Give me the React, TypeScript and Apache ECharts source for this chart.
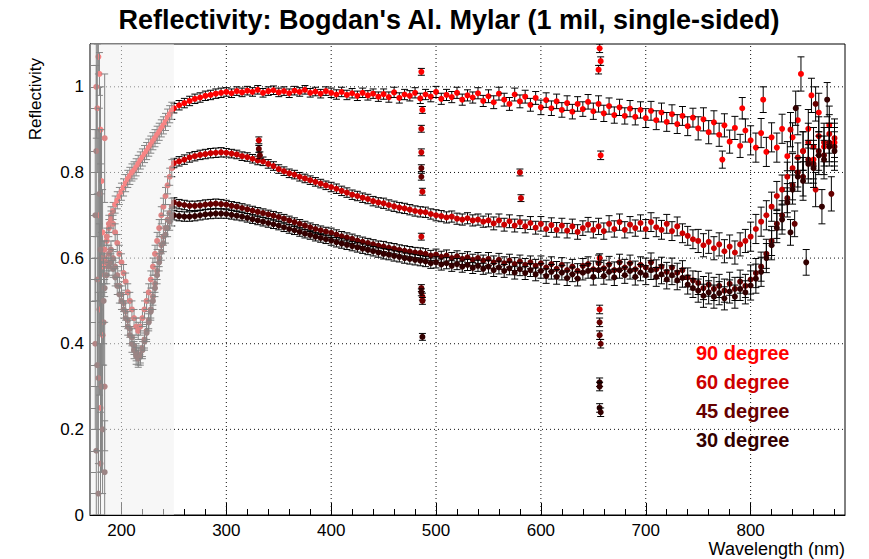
import React, { useEffect, useRef } from "react";
import * as echarts from "echarts";

const FONT = "'Liberation Sans', Arial, Helvetica, sans-serif";
const TITLE = "Reflectivity: Bogdan's Al. Mylar (1 mil, single-sided)";
const X_TITLE = "Wavelength (nm)";
const Y_TITLE = "Reflectivity";

const xMin = 170;
const xMax = 890;
const yMin = 0;
const yMax = 1.1;
const xMajor = [200, 300, 400, 500, 600, 700, 800];
const xMinor = [180, 220, 240, 260, 280, 320, 340, 360, 380, 420, 440, 460, 480, 520, 540, 560, 580, 620, 640, 660, 680, 720, 740, 760, 780, 820, 840, 860, 880];
const yMajor = [0, 0.2, 0.4, 0.6, 0.8, 1];
const yMinor = [0.05, 0.1, 0.15, 0.25, 0.3, 0.35, 0.45, 0.5, 0.55, 0.65, 0.7, 0.75, 0.85, 0.9, 0.95, 1.05];

// shaded (UV) wavelength band
const uvBand = [170, 250];

const seriesNames = ["90 degree", "60 degree", "45 degree", "30 degree"];
const seriesColors = ["#ff0000", "#cc0000", "#660000", "#330000"];

// UV part (184..248 nm, every 2 nm)
const wlUV = [184, 186, 188, 190, 192, 194, 196, 198, 200, 202, 204, 206, 208, 210, 212, 214, 216, 218, 220, 222, 224, 226, 228, 230, 232, 234, 236, 238, 240, 242, 244, 246, 248];
const r90UV = [0.6, 0.64, 0.67, 0.7, 0.71, 0.725, 0.735, 0.745, 0.755, 0.765, 0.775, 0.785, 0.792, 0.8, 0.805, 0.812, 0.82, 0.828, 0.835, 0.843, 0.85, 0.858, 0.865, 0.873, 0.88, 0.888, 0.895, 0.903, 0.91, 0.918, 0.928, 0.936, 0.944];
const r60UV = [0.62, 0.65, 0.68, 0.69, 0.68, 0.66, 0.635, 0.61, 0.59, 0.565, 0.545, 0.52, 0.5, 0.48, 0.46, 0.44, 0.43, 0.44, 0.46, 0.48, 0.5, 0.52, 0.55, 0.58, 0.61, 0.64, 0.67, 0.7, 0.72, 0.745, 0.77, 0.79, 0.81];
const r45UV = [0.56, 0.59, 0.61, 0.62, 0.6, 0.58, 0.56, 0.535, 0.515, 0.495, 0.475, 0.455, 0.435, 0.415, 0.395, 0.38, 0.37, 0.375, 0.39, 0.41, 0.43, 0.455, 0.48, 0.51, 0.54, 0.57, 0.6, 0.63, 0.65, 0.67, 0.69, 0.705, 0.72];
const r30UV = [0.53, 0.56, 0.58, 0.59, 0.575, 0.555, 0.535, 0.515, 0.5, 0.48, 0.46, 0.44, 0.42, 0.4, 0.385, 0.372, 0.365, 0.37, 0.385, 0.405, 0.425, 0.45, 0.475, 0.5, 0.53, 0.56, 0.59, 0.615, 0.635, 0.655, 0.67, 0.685, 0.695];
const errUV = 0.02;

// visible part (250..880 nm, every 5 nm)
const wlVis = [
  250, 255, 260, 265, 270, 275, 280, 285, 290, 295,
  300, 305, 310, 315, 320, 325, 330, 335, 340, 345,
  350, 355, 360, 365, 370, 375, 380, 385, 390, 395,
  400, 405, 410, 415, 420, 425, 430, 435, 440, 445,
  450, 455, 460, 465, 470, 475, 480, 485, 490, 495,
  500, 505, 510, 515, 520, 525, 530, 535, 540, 545,
  550, 555, 560, 565, 570, 575, 580, 585, 590, 595,
  600, 605, 610, 615, 620, 625, 630, 635, 640, 645,
  650, 655, 660, 665, 670, 675, 680, 685, 690, 695,
  700, 705, 710, 715, 720, 725, 730, 735, 740, 745,
  750, 755, 760, 765, 770, 775, 780, 785, 790, 795,
  800, 805, 810, 815, 820, 825, 830, 835, 840, 845,
  850, 855, 860, 865, 870, 875, 880,
];
const r90Vis = [
  0.95, 0.957, 0.962, 0.967, 0.972, 0.975, 0.979, 0.981, 0.984, 0.986,
  0.988, 0.985, 0.99, 0.987, 0.991, 0.988, 0.993, 0.986, 0.99, 0.992,
  0.987, 0.99, 0.985, 0.991, 0.988, 0.993, 0.986, 0.989, 0.984, 0.99,
  0.986, 0.982, 0.988, 0.981, 0.985, 0.979, 0.986, 0.98, 0.984, 0.977,
  0.983, 0.976, 0.987, 0.974, 0.982, 0.979, 0.986, 0.973, 0.982, 0.977,
  0.988, 0.972, 0.981, 0.976, 0.986, 0.97, 0.98, 0.975, 0.985, 0.967,
  0.978, 0.964, 0.984, 0.97, 0.96, 0.982, 0.966, 0.977, 0.958, 0.974,
  0.952, 0.969, 0.95, 0.966, 0.946, 0.962, 0.942, 0.96, 0.948, 0.965,
  0.943, 0.96, 0.938, 0.955, 0.934, 0.952, 0.932, 0.949, 0.93, 0.946,
  0.927, 0.944, 0.922, 0.94, 0.918, 0.936, 0.913, 0.932, 0.908, 0.928,
  0.903, 0.924, 0.894, 0.917, 0.888, 0.91, 0.872, 0.904, 0.862, 0.898,
  0.875, 0.858, 0.892, 0.848, 0.882, 0.858, 0.902, 0.838, 0.882, 0.922,
  0.85, 0.902, 0.83, 0.94, 0.86, 0.91, 0.87,
];
const r60Vis = [
  0.822, 0.826, 0.83, 0.835, 0.838, 0.841, 0.843, 0.845, 0.846, 0.847,
  0.846, 0.844, 0.842, 0.838, 0.836, 0.832, 0.828, 0.826, 0.82, 0.815,
  0.808, 0.803, 0.798, 0.795, 0.79, 0.786, 0.782, 0.778, 0.774, 0.77,
  0.766, 0.762, 0.757, 0.753, 0.748, 0.745, 0.741, 0.738, 0.733, 0.73,
  0.728, 0.724, 0.721, 0.718, 0.716, 0.713, 0.71, 0.708, 0.707, 0.703,
  0.7, 0.698, 0.695, 0.697, 0.692, 0.69, 0.693, 0.688, 0.69, 0.685,
  0.688, 0.681, 0.688, 0.678, 0.686, 0.676, 0.684, 0.674, 0.682, 0.671,
  0.68, 0.668, 0.677, 0.666, 0.676, 0.664, 0.674, 0.661, 0.67, 0.678,
  0.666, 0.674, 0.663, 0.68, 0.668, 0.684, 0.666, 0.678, 0.67, 0.682,
  0.668, 0.684, 0.672, 0.666, 0.68, 0.663, 0.674, 0.658, 0.652, 0.644,
  0.64, 0.63, 0.638, 0.623, 0.632, 0.616, 0.627, 0.613, 0.632, 0.64,
  0.65, 0.668, 0.685, 0.7, 0.72, 0.745, 0.76, 0.79, 0.81, 0.835,
  0.85, 0.87, 0.86, 0.885, 0.87, 0.89, 0.88,
];
const r45Vis = [
  0.73, 0.726, 0.724, 0.722, 0.722, 0.723, 0.725, 0.726, 0.727, 0.726,
  0.725, 0.722, 0.72, 0.717, 0.714, 0.711, 0.708, 0.705, 0.702, 0.699,
  0.696, 0.692, 0.688, 0.684, 0.68, 0.676, 0.672, 0.668, 0.665, 0.662,
  0.659, 0.655, 0.651, 0.648, 0.645, 0.641, 0.638, 0.635, 0.632, 0.629,
  0.627, 0.624, 0.622, 0.619, 0.617, 0.615, 0.613, 0.612, 0.61, 0.606,
  0.608, 0.603, 0.606, 0.6, 0.604, 0.598, 0.602, 0.596, 0.6, 0.594,
  0.598, 0.59, 0.596, 0.588, 0.594, 0.586, 0.592, 0.584, 0.59, 0.582,
  0.588, 0.578, 0.586, 0.575, 0.584, 0.572, 0.58, 0.57, 0.582, 0.586,
  0.574, 0.588, 0.576, 0.585, 0.572, 0.59, 0.578, 0.588, 0.574, 0.584,
  0.578, 0.59, 0.574, 0.58, 0.568, 0.578, 0.566, 0.572, 0.555, 0.548,
  0.542, 0.53, 0.538, 0.528, 0.535, 0.524, 0.54, 0.528, 0.545, 0.535,
  0.55, 0.565, 0.58, 0.61, 0.64, 0.68, 0.7, 0.74, 0.77, 0.8,
  0.79, 0.83, 0.82, 0.85, 0.84, 0.87, 0.86,
];
const r30Vis = [
  0.7, 0.698, 0.697, 0.697, 0.698, 0.7, 0.702, 0.703, 0.704, 0.704,
  0.703, 0.701, 0.699, 0.697, 0.694, 0.691, 0.688, 0.685, 0.682, 0.679,
  0.676, 0.672, 0.668, 0.665, 0.661, 0.657, 0.654, 0.65, 0.647, 0.644,
  0.641, 0.637, 0.634, 0.631, 0.628, 0.625, 0.622, 0.619, 0.616, 0.613,
  0.61, 0.608, 0.605, 0.603, 0.6, 0.598, 0.596, 0.594, 0.592, 0.588,
  0.59, 0.585, 0.588, 0.582, 0.586, 0.58, 0.584, 0.577, 0.582, 0.575,
  0.58, 0.572, 0.578, 0.57, 0.576, 0.566, 0.574, 0.565, 0.572, 0.562,
  0.57, 0.558, 0.568, 0.556, 0.566, 0.553, 0.562, 0.552, 0.566, 0.57,
  0.556, 0.572, 0.558, 0.568, 0.555, 0.572, 0.56, 0.57, 0.556, 0.566,
  0.56, 0.572, 0.556, 0.562, 0.55, 0.56, 0.548, 0.554, 0.538, 0.53,
  0.524, 0.512, 0.52, 0.51, 0.518, 0.506, 0.522, 0.51, 0.528, 0.52,
  0.536, 0.552, 0.568, 0.6, 0.63, 0.67, 0.69, 0.73, 0.76, 0.79,
  0.78, 0.82, 0.81, 0.84, 0.83, 0.86, 0.85,
];
// error per 50 nm band, starting at 250 nm
const errVisBand = [0.011, 0.01, 0.01, 0.011, 0.012, 0.013, 0.015, 0.017, 0.019, 0.022, 0.027, 0.034, 0.045];

// outliers / spectral-line spikes / scattered points: [nm, value, error]
const spk90 = [[178, 1.07, 0.04], [179, 1.03, 0.05], [180, 0.9, 0.1], [181, 0.78, 0.12], [182, 0.66, 0.1], [183, 0.58, 0.06], [486, 1.035, 0.008], [487, 0.946, 0.008], [655, 1.04, 0.01], [656, 1.09, 0.01], [657, 1.06, 0.01], [657, 0.84, 0.01], [773, 0.83, 0.02], [792, 0.95, 0.025], [812, 0.97, 0.03], [848, 1.03, 0.04], [858, 0.98, 0.04]];
const spk60 = [[176, 1.0, 0.12], [177, 0.95, 0.15], [178, 0.7, 0.2], [179, 0.48, 0.2], [180, 0.25, 0.15], [182, 0.42, 0.12], [184, 0.88, 0.15], [331, 0.875, 0.008], [486, 0.902, 0.008], [486, 0.847, 0.008], [487, 0.755, 0.008], [486, 0.65, 0.008], [487, 0.51, 0.008], [580, 0.8, 0.008], [581, 0.74, 0.008], [656, 0.6, 0.01], [656, 0.48, 0.01], [838, 0.9, 0.04], [862, 0.76, 0.04]];
const spk45 = [[175, 0.4, 0.2], [176, 0.85, 0.2], [177, 0.55, 0.2], [178, 0.32, 0.2], [180, 0.12, 0.12], [181, 0.6, 0.15], [183, 0.45, 0.1], [184, 0.3, 0.15], [331, 0.855, 0.008], [332, 0.84, 0.008], [486, 0.81, 0.008], [486, 0.79, 0.008], [486, 0.53, 0.008], [487, 0.5, 0.008], [656, 0.45, 0.01], [656, 0.42, 0.01], [657, 0.4, 0.01], [842, 0.68, 0.03], [862, 0.96, 0.04], [877, 0.75, 0.04]];
const spk30 = [[175, 0.7, 0.2], [176, 0.15, 0.15], [177, 0.35, 0.2], [178, 0.05, 0.1], [179, 0.75, 0.2], [180, 0.62, 0.2], [181, 0.3, 0.2], [182, 0.2, 0.15], [183, 0.5, 0.1], [184, 0.1, 0.12], [486, 0.52, 0.008], [487, 0.416, 0.008], [656, 0.31, 0.01], [656, 0.3, 0.01], [656, 0.25, 0.01], [657, 0.24, 0.01], [838, 0.66, 0.03], [843, 0.95, 0.04], [853, 0.59, 0.03], [868, 0.72, 0.04], [873, 0.97, 0.04]];

const uvSets = [r90UV, r60UV, r45UV, r30UV];
const visSets = [r90Vis, r60Vis, r45Vis, r30Vis];
const spikeSets = [spk90, spk60, spk45, spk30];

function buildPoints(uv: number[], vis: number[], spikes: number[][]) {
  const pts: number[][] = [];
  wlUV.forEach((w, i) => pts.push([w, uv[i], errUV]));
  wlVis.forEach((w, i) => {
    const band = Math.min(errVisBand.length - 1, Math.floor((w - 250) / 50));
    pts.push([w, vis[i], errVisBand[band]]);
  });
  spikes.forEach((s) => pts.push(s));
  return pts;
}

const makeRender = (color: string) => (_p: any, api: any) => {
  const x = api.value(0);
  const y = api.value(1);
  const e = api.value(2);
  const c = api.coord([x, y]);
  const t = api.coord([x, y + e]);
  const b = api.coord([x, y - e]);
  const cap = 3.5;
  const ls = { stroke: "#000", lineWidth: 1 };
  return {
    type: "group",
    children: [
      { type: "line", shape: { x1: c[0], y1: t[1], x2: c[0], y2: b[1] }, style: ls },
      { type: "line", shape: { x1: c[0] - cap, y1: t[1], x2: c[0] + cap, y2: t[1] }, style: ls },
      { type: "line", shape: { x1: c[0] - cap, y1: b[1], x2: c[0] + cap, y2: b[1] }, style: ls },
      { type: "circle", shape: { cx: c[0], cy: c[1], r: 3 }, style: { fill: color } },
    ],
  };
};

export default function App() {
  const ref = useRef<HTMLDivElement>(null);
  useEffect(() => {
    if (!ref.current) return;
    const chart = echarts.init(ref.current, undefined, { renderer: "svg" });
    const gridDash = { stroke: "#111", lineWidth: 1, lineDash: [1, 3] };
    const dataSeries = seriesNames.map((name, i) => ({
      type: "custom",
      name,
      data: buildPoints(uvSets[i], visSets[i], spikeSets[i]),
      encode: { x: 0, y: 1 },
      renderItem: makeRender(seriesColors[i]),
      clip: true,
      silent: true,
      z: 2,
    }));
    const axisText = { color: "#000", fontSize: 17, fontFamily: FONT };
    chart.setOption({
      animation: false,
      backgroundColor: "#fff",
      grid: { left: 90, right: 24, top: 44, bottom: 44, show: true, borderColor: "#000", borderWidth: 1 },
      xAxis: [
        {
          type: "value", min: xMin, max: xMax, position: "bottom",
          axisLine: { show: true, lineStyle: { color: "#000" } },
          axisTick: { show: true, inside: true, length: 12, customValues: xMajor, lineStyle: { color: "#000" } },
          axisLabel: { ...axisText, customValues: xMajor, margin: 7 },
          splitLine: { show: false },
        },
        {
          type: "value", min: xMin, max: xMax, position: "bottom", offset: 0,
          axisLine: { show: false },
          axisTick: { show: true, inside: true, length: 6, customValues: xMinor, lineStyle: { color: "#000" } },
          axisLabel: { show: false },
          splitLine: { show: false },
        },
      ],
      yAxis: [
        {
          type: "value", min: yMin, max: yMax, position: "left",
          axisLine: { show: true, lineStyle: { color: "#000" } },
          axisTick: { show: true, inside: true, length: 12, customValues: yMajor, lineStyle: { color: "#000" } },
          axisLabel: { ...axisText, customValues: yMajor, margin: 6, formatter: (v: number) => String(Math.round(v * 10) / 10) },
          splitLine: { show: false },
        },
        {
          type: "value", min: yMin, max: yMax, position: "left", offset: 0,
          axisLine: { show: false },
          axisTick: { show: true, inside: true, length: 6, customValues: yMinor, lineStyle: { color: "#000" } },
          axisLabel: { show: false },
          splitLine: { show: false },
        },
      ],
      series: [
        {
          type: "custom", name: "gridX", data: xMajor.map((v) => [v, yMin]), encode: { x: 0, y: 1 }, silent: true, z: 1,
          renderItem: (_p: any, api: any) => {
            const a = api.coord([api.value(0), yMin]);
            const b = api.coord([api.value(0), yMax]);
            return { type: "line", shape: { x1: a[0], y1: a[1], x2: b[0], y2: b[1] }, style: gridDash };
          },
        },
        {
          type: "custom", name: "gridY", data: yMajor.filter((v) => v > 0).map((v) => [xMin, v]), encode: { x: 0, y: 1 }, silent: true, z: 1,
          renderItem: (_p: any, api: any) => {
            const a = api.coord([xMin, api.value(1)]);
            const b = api.coord([xMax, api.value(1)]);
            return { type: "line", shape: { x1: a[0], y1: a[1], x2: b[0], y2: b[1] }, style: gridDash };
          },
        },
        ...dataSeries,
        {
          type: "custom", name: "uvShade", data: [[uvBand[0], yMin, uvBand[1], yMax]], encode: { x: [0, 2], y: [1, 3] }, silent: true, z: 10,
          renderItem: (_p: any, api: any) => {
            const a = api.coord([api.value(0), api.value(3)]);
            const b = api.coord([api.value(2), api.value(1)]);
            return { type: "rect", shape: { x: a[0], y: a[1], width: b[0] - a[0], height: b[1] - a[1] }, style: { fill: "rgba(240,240,240,0.55)" } };
          },
        },
      ],
      graphic: [
        { type: "text", x: 449, y: 20, z: 100, style: { text: TITLE, fill: "#000", font: `bold 27px ${FONT}`, textAlign: "center", textVerticalAlign: "middle" } },
        { type: "text", x: 35, y: 58, rotation: Math.PI / 2, z: 100, style: { text: Y_TITLE, fill: "#000", font: `17px ${FONT}`, textAlign: "right", textVerticalAlign: "middle" } },
        { type: "text", x: 845, y: 549, z: 100, style: { text: X_TITLE, fill: "#000", font: `18px ${FONT}`, textAlign: "right", textVerticalAlign: "middle" } },
        ...seriesNames.map((n, i) => ({
          type: "text", x: 696, y: 353 + i * 29, z: 100,
          style: { text: n, fill: seriesColors[i], font: `bold 20px ${FONT}`, textAlign: "left", textVerticalAlign: "middle" },
        })),
      ],
    });
    return () => chart.dispose();
  }, []);
  return <div ref={ref} style={{ position: "fixed", left: 0, top: 0, width: 869, height: 559 }} />;
}
